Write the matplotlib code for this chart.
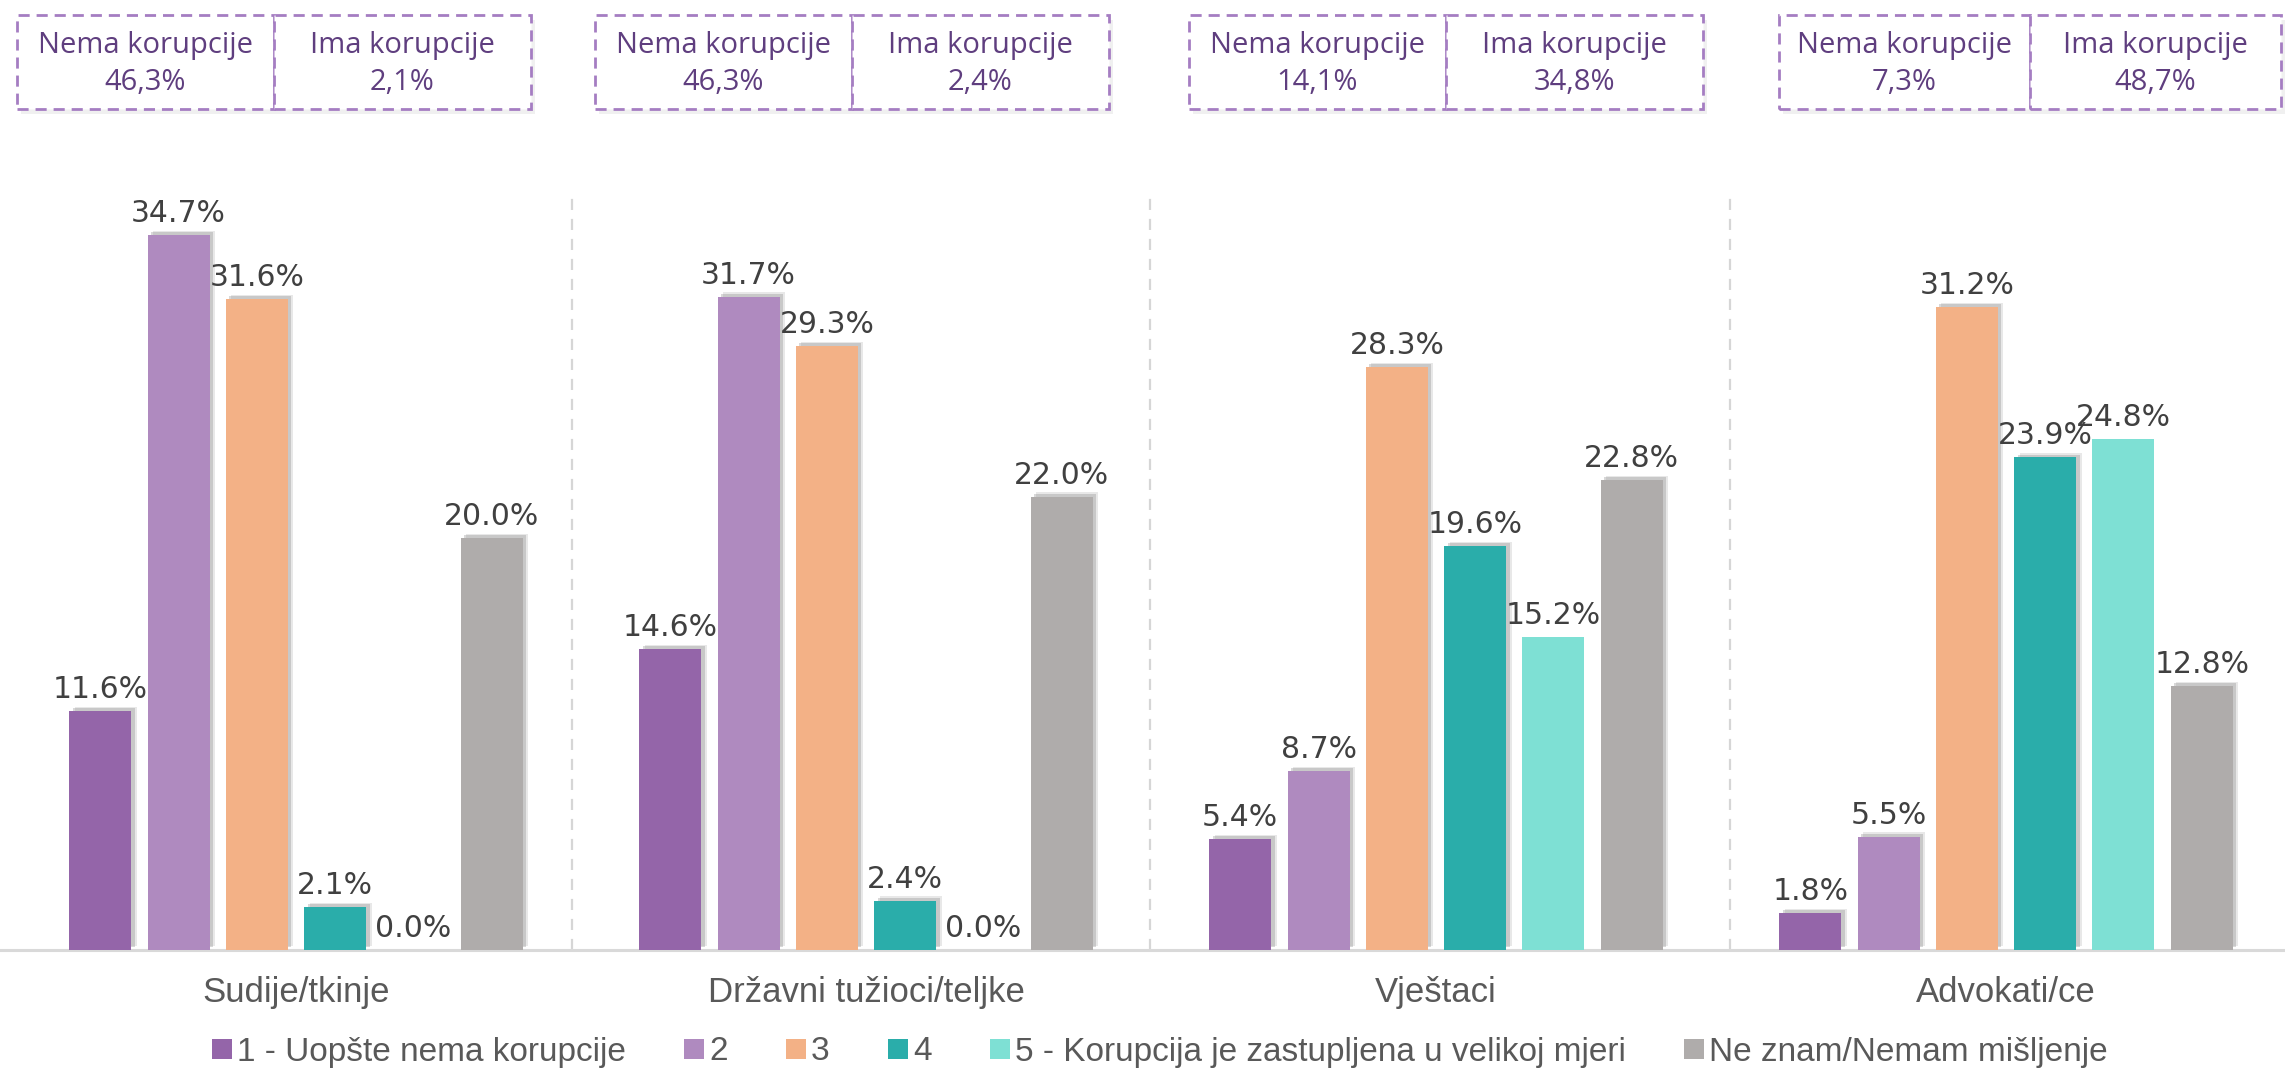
import matplotlib
matplotlib.use("Agg")
import matplotlib.pyplot as plt
import matplotlib.patheffects as pe
from matplotlib.patches import Rectangle
from matplotlib.lines import Line2D
import numpy as np

# ── Data ──────────────────────────────────────────────────────────────────────
categories = ["Sudije/tkinje", "Državni tužioci/teljke", "Vještaci", "Advokati/ce"]
series_names = ["1 - Uopšte nema korupcije", "2", "3", "4",
                "5 - Korupcija je zastupljena u velikoj mjeri", "Ne znam/Nemam mišljenje"]
s1 = [11.6, 14.6, 5.4, 1.8]
s2 = [34.7, 31.7, 8.7, 5.5]
s3 = [31.6, 29.3, 28.3, 31.2]
s4 = [2.1, 2.4, 19.6, 23.9]
s5 = [0.0, 0.0, 15.2, 24.8]
s6 = [20.0, 22.0, 22.8, 12.8]
nema = ["46,3%", "46,3%", "14,1%", "7,3%"]
ima = ["2,1%", "2,4%", "34,8%", "48,7%"]

series = [s1, s2, s3, s4, s5, s6]
colors = ["#9465A9", "#AF8ABF", "#F3B186", "#2AADAA", "#7EE0D4", "#AFACAB"]
shadowed = [True, True, True, True, False, True]

LABEL_FONT = ["DejaVu Sans"]
BOX_FONT = ["Open Sans", "DejaVu Sans"]
TEXT_FONT = ["Liberation Sans", "DejaVu Sans"]

W, H = 2285, 1074
GROUP_PX = 570          # distance between group centres
FIRST_PX = 296          # centre of first group
fig = plt.figure(figsize=(W / 100, H / 100), dpi=100)
fig.patch.set_facecolor("white")

# ── Axes: full width, baseline at y=950 px ───────────────────────────────────
ax = fig.add_axes([0, (H - 950) / H, 1, 742 / H])
ax.set_xlim(-FIRST_PX / GROUP_PX, (W - FIRST_PX) / GROUP_PX)
ax.set_ylim(0, 36)

x = np.arange(len(categories))
step = 78.3 / GROUP_PX
width = 62 / GROUP_PX

shadow_fx = [
    pe.SimplePatchShadow(offset=(4, 3), shadow_rgbFace="#808080", alpha=0.18),
    pe.SimplePatchShadow(offset=(2.5, 2), shadow_rgbFace="#808080", alpha=0.3),
    pe.Normal(),
]

for k, (vals, col) in enumerate(zip(series, colors)):
    xs = x + (k - 2.5) * step
    bars = ax.bar(xs, vals, width, color=col, zorder=3, linewidth=0)
    if shadowed[k]:
        for b in bars:
            b.set_path_effects(shadow_fx)
    for xi, v in zip(xs, vals):
        ax.annotate(f"{v:.1f}%", (xi, v), xytext=(0, 5), textcoords="offset points",
                    ha="center", va="bottom", fontsize=21.5, color="#404040",
                    family=LABEL_FONT, zorder=5, annotation_clip=False)

# group separators (hand-drawn in the original, not exactly at midpoints)
sep_x = [0.484, 1.498, 2.516]
for b in sep_x:
    ax.plot([b, b], [0, 36.5], color="#D6D6D6", lw=1.6, ls=(0, (5, 4)),
            zorder=1, clip_on=False)

for s in ["top", "right", "left"]:
    ax.spines[s].set_visible(False)
ax.spines["bottom"].set_color("#D9D9D9")
ax.spines["bottom"].set_linewidth(2.2)
ax.set_yticks([])
ax.set_xticks(x)
ax.set_xticklabels(categories, fontsize=25, color="#595959", family=TEXT_FONT)
ax.tick_params(axis="x", length=0, pad=19)

# ── Summary boxes at the top (figure pixels) ─────────────────────────────────
box_left = [17, 595, 1189, 1779]
box_w = [257, 257, 257, 251]
y0, y1 = 15, 109
for i in range(len(categories)):
    for j, (title, val) in enumerate([("Nema korupcije", nema[i]), ("Ima korupcije", ima[i])]):
        bx = box_left[i] + j * box_w[i]
        sh = Rectangle(((bx + 4) / W, 1 - (y1 + 5) / H), box_w[i] / W, (y1 - y0) / H,
                       transform=fig.transFigure, facecolor="#000000", alpha=0.06,
                       edgecolor="none")
        fig.add_artist(sh)
        r = Rectangle((bx / W, 1 - y1 / H), box_w[i] / W, (y1 - y0) / H,
                      transform=fig.transFigure, facecolor="white",
                      edgecolor="#A57DC2", lw=2, ls=(0, (4, 2.5)))
        fig.add_artist(r)
        cx = (bx + box_w[i] / 2) / W
        fig.text(cx, 1 - 45 / H, title, fontsize=21, color="#5F3E7F",
                 family=BOX_FONT, ha="center", va="center")
        fig.text(cx, 1 - 82 / H, val, fontsize=21, color="#5F3E7F",
                 family=BOX_FONT, ha="center", va="center")

# ── Legend ───────────────────────────────────────────────────────────────────
handles = [Line2D([], [], marker="s", ls="none", markersize=15, color=c, markeredgewidth=0)
           for c in colors]
leg = fig.legend(handles, series_names, loc="center", bbox_to_anchor=(1160 / W, 1 - 1052 / H),
                 ncol=6, frameon=False, handlelength=0.6, handletextpad=0.15,
                 columnspacing=1.75, borderpad=0,
                 prop={"family": TEXT_FONT, "size": 24})
for t in leg.get_texts():
    t.set_color("#595959")

fig.savefig("out.png", dpi=100)
